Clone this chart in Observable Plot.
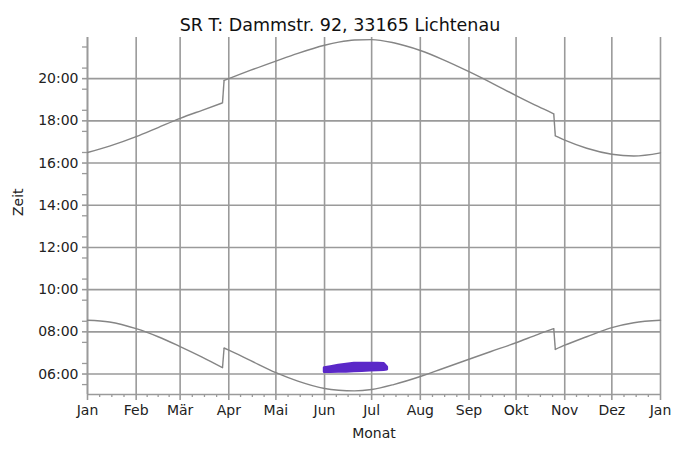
<!DOCTYPE html>
<html>
<head>
<meta charset="utf-8">
<script src="https://cdn.jsdelivr.net/npm/d3@7"></script>
<script src="https://cdn.jsdelivr.net/npm/@observablehq/plot@0.6"></script>
<style>
  html, body { margin: 0; padding: 0; background: #fff; }
  #chart svg { display: block; }
</style>
</head>
<body>
<div id="chart"></div>
<script>
// ---------- data ----------
const titleText = "SR T: Dammstr. 92, 33165 Lichtenau";
const xLabel = "Monat";
const yLabel = "Zeit";

// sunrise / sunset curve (local clock time, with DST jumps)
const sunDates = [
  "2009-01-01", "2009-01-15", "2009-02-01", "2009-02-15", "2009-03-01",
  "2009-03-15", "2009-03-28", "2009-03-29", "2009-04-01", "2009-04-15",
  "2009-05-01", "2009-05-15", "2009-06-01", "2009-06-10", "2009-06-20",
  "2009-07-01", "2009-07-15", "2009-08-01", "2009-08-15", "2009-09-01",
  "2009-09-15", "2009-10-01", "2009-10-15", "2009-10-25", "2009-10-26",
  "2009-11-01", "2009-11-15", "2009-12-01", "2009-12-15", "2010-01-01"
];
const sunrise = [
  "08:33", "08:28", "08:09", "07:46", "07:18",
  "06:48", "06:18", "07:14", "07:08", "06:38",
  "06:04", "05:40", "05:19", "05:14", "05:12",
  "05:16", "05:30", "05:53", "06:15", "06:42",
  "07:04", "07:29", "07:53", "08:09", "07:10",
  "07:22", "07:46", "08:12", "08:26", "08:33"
];
const sunset = [
  "16:30", "16:48", "17:15", "17:41", "18:07",
  "18:30", "18:51", "19:55", "20:00", "20:24",
  "20:50", "21:12", "21:35", "21:44", "21:50",
  "21:51", "21:42", "21:20", "20:55", "20:20",
  "19:49", "19:12", "18:41", "18:20", "17:17",
  "17:05", "16:42", "16:25", "16:20", "16:29"
];
// first days after the clock changes (where the curves jump)
const clockChangeDates = ["2009-03-29", "2009-10-26"];

// shadow period (purple band): start / end times per day
const shadowDates = [
  "2009-06-01", "2009-06-05", "2009-06-10", "2009-06-15", "2009-06-20",
  "2009-06-25", "2009-06-30", "2009-07-05", "2009-07-09", "2009-07-11"
];
const shadowStart = [
  "06:05", "06:05", "06:06", "06:06", "06:07",
  "06:08", "06:09", "06:10", "06:11", "06:12"
];
const shadowEnd = [
  "06:17", "06:20", "06:24", "06:27", "06:30",
  "06:30", "06:30", "06:30", "06:29", "06:19"
];

// axis ticks
const monthTickDates = [
  "2009-01-01", "2009-02-01", "2009-03-01", "2009-04-01", "2009-05-01", "2009-06-01",
  "2009-07-01", "2009-08-01", "2009-09-01", "2009-10-01", "2009-11-01", "2009-12-01", "2010-01-01"
];
const monthLabels = ["Jan", "Feb", "Mär", "Apr", "Mai", "Jun", "Jul", "Aug", "Sep", "Okt", "Nov", "Dez", "Jan"];
const hourTicks = [6, 8, 10, 12, 14, 16, 18, 20];
const hourLabels = ["06:00", "08:00", "10:00", "12:00", "14:00", "16:00", "18:00", "20:00"];

// ---------- helpers ----------
const parseDate = s => { const [y, m, d] = s.split("-").map(Number); return new Date(Date.UTC(y, m - 1, d)); };
const parseTime = s => { const [h, m] = s.split(":").map(Number); return h + m / 60; };

const changes = clockChangeDates.map(parseDate);
const sunData = sunDates.map((d, i) => {
  const date = parseDate(d);
  return {date, rise: parseTime(sunrise[i]), set: parseTime(sunset[i]), seg: changes.filter(c => c <= date).length};
});
// jump connectors between the last point before and the first point after each clock change
const jumps = changes.map(c => {
  const j = sunData.findIndex(p => +p.date === +c);
  return {a: sunData[j - 1], b: sunData[j]};
});
const shadowData = shadowDates.map((d, i) => ({date: parseDate(d), start: parseTime(shadowStart[i]), end: parseTime(shadowEnd[i])}));
const monthTicks = monthTickDates.map(parseDate);
const monthLabelOf = new Map(monthTicks.map((d, i) => [+d, monthLabels[i]]));
const hourLabelOf = new Map(hourTicks.map((h, i) => [h, hourLabels[i]]));

// minor ticks: quarter months, half hours
const minorX = [];
for (let i = 0; i < monthTicks.length - 1; i++) {
  const a = +monthTicks[i], b = +monthTicks[i + 1];
  for (let k = 1; k < 4; k++) minorX.push(new Date(a + (b - a) * k / 4));
}
const yMin = 5.03, yMax = 21.95;
const minorY = [];
for (let h = 5.5; h < yMax; h += 1) minorY.push(h);

const gray = "#9a9a9a";
const curveColor = "#858585";
const font = "'DejaVu Sans', 'Liberation Sans', Arial, sans-serif";

const chart = Plot.plot({
  width: 677,
  height: 450,
  marginLeft: 87,
  marginRight: 17,
  marginTop: 37,
  marginBottom: 56,
  style: {fontFamily: font, fontSize: "14px", color: "#222", background: "#fff"},
  x: {type: "utc", domain: [monthTicks[0], monthTicks[monthTicks.length - 1]]},
  y: {domain: [yMin, yMax]},
  marks: [
    Plot.gridX({ticks: monthTicks, stroke: gray, strokeOpacity: 1, strokeWidth: 1.6}),
    Plot.gridY({ticks: hourTicks, stroke: gray, strokeOpacity: 1, strokeWidth: 1.6}),
    // minor ticks
    Plot.axisX({ticks: minorX, tickSize: 3, tickFormat: () => "", stroke: gray, strokeWidth: 1.3, label: null}),
    Plot.axisY({ticks: minorY, tickSize: 5, tickFormat: () => "", stroke: gray, strokeWidth: 1.3, label: null}),
    // major ticks + labels
    Plot.axisX({ticks: monthTicks, tickSize: 6, tickPadding: 5, tickFormat: d => monthLabelOf.get(+d),
      stroke: gray, strokeWidth: 1.6, fill: "#222", fontSize: 14, label: null}),
    Plot.axisY({ticks: hourTicks, tickSize: 5, tickPadding: 4, tickFormat: h => hourLabelOf.get(h),
      stroke: gray, strokeWidth: 1.6, fill: "#222", fontSize: 14, label: null}),
    // axis lines
    Plot.ruleX([monthTicks[0]], {stroke: gray, strokeWidth: 1.6}),
    Plot.ruleY([yMin], {stroke: gray, strokeWidth: 1.6}),
    // curves (smooth within each clock period, straight jumps between)
    Plot.line(sunData, {x: "date", y: "rise", z: "seg", stroke: curveColor, strokeWidth: 1.4, curve: "monotone-x"}),
    Plot.line(sunData, {x: "date", y: "set", z: "seg", stroke: curveColor, strokeWidth: 1.4, curve: "monotone-x"}),
    Plot.link(jumps, {x1: d => d.a.date, y1: d => d.a.rise, x2: d => d.b.date, y2: d => d.b.rise, stroke: curveColor, strokeWidth: 1.4}),
    Plot.link(jumps, {x1: d => d.a.date, y1: d => d.a.set, x2: d => d.b.date, y2: d => d.b.set, stroke: curveColor, strokeWidth: 1.4}),
    // shadow band
    Plot.areaY(shadowData, {x: "date", y1: "start", y2: "end", fill: "#5b28c8", stroke: "#5b28c8", strokeWidth: 2.5, strokeLinejoin: "round"}),
    // titles
    Plot.text([titleText], {frameAnchor: "top", dx: -34, dy: -19, fontSize: 17.5, fill: "#111"}),
    Plot.text([xLabel], {frameAnchor: "bottom", dy: 43, fontSize: 14, fill: "#222"}),
    Plot.text([yLabel], {frameAnchor: "left", dx: -69, rotate: -90, fontSize: 14, fill: "#222"})
  ]
});
document.getElementById("chart").appendChild(chart);
</script>
</body>
</html>
